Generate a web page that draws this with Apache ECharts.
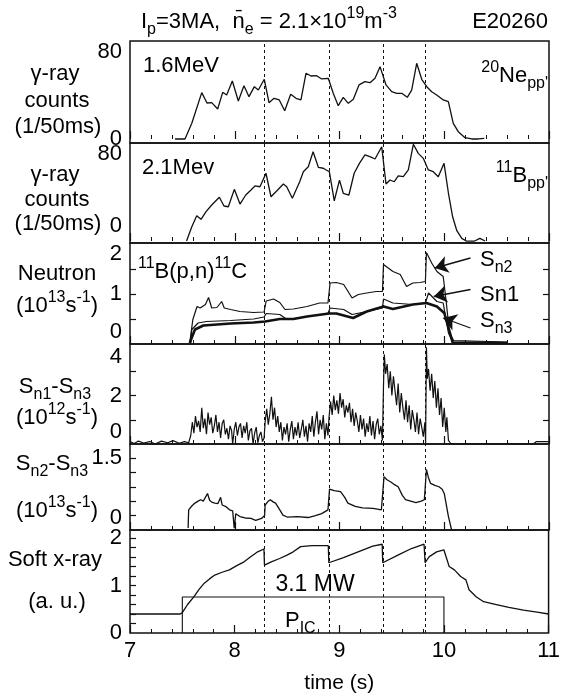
<!DOCTYPE html>
<html>
<head>
<meta charset="utf-8">
<script src="https://cdn.jsdelivr.net/npm/echarts@6/dist/echarts.min.js"></script>
<style>
  html, body { margin: 0; padding: 0; background: #fff; }
  #chart { width: 563px; height: 696px; }
</style>
</head>
<body>
<div id="chart"></div>
<script>
// sawtooth crash times (dashed lines)
const crashTimes = [8.28, 8.9, 9.42, 9.82];

// 1.6 MeV gamma-ray counts (20Ne pp')
const gamma16 = [[7.43,0],[7.525,0],[7.59,14.4],[7.685,42.6],[7.735,33.1],[7.78,33.4],[7.837,27.6],[7.885,42.9],[7.923,40.5],[7.977,53.3],[8.034,34.9],[8.088,49],[8.136,38.9],[8.187,48.1],[8.225,45],[8.282,54.9],[8.327,33.4],[8.375,37.4],[8.425,35.9],[8.477,26],[8.534,41.1],[8.585,37.4],[8.632,35.9],[8.68,60.4],[8.728,57.9],[8.782,58.2],[8.83,55.2],[8.893,55.8],[8.94,42],[8.988,30.6],[9.036,38.3],[9.084,32.8],[9.132,36.5],[9.186,49.7],[9.243,52.7],[9.291,51.8],[9.339,55.8],[9.387,66.5],[9.444,49.7],[9.498,43.5],[9.546,42],[9.594,42],[9.647,38.3],[9.689,45],[9.737,69.6],[9.785,54.9],[9.833,48.1],[9.88,43.5],[9.928,40.5],[9.991,35.9],[10.039,34.3],[10.086,14.4],[10.134,6.7],[10.198,1.2],[10.262,0],[10.325,0],[10.382,0.6]];

// 2.1 MeV gamma-ray counts (11B pp')
const gamma21 = [[7.54,0],[7.59,13.2],[7.637,23.3],[7.678,20],[7.726,27],[7.78,33.1],[7.853,40.2],[7.897,32.2],[7.939,31.5],[7.996,47.5],[8.05,34],[8.105,42.3],[8.155,46.9],[8.193,50.6],[8.241,49.9],[8.298,62.3],[8.346,40.7],[8.4,46],[8.464,52.4],[8.496,49.9],[8.55,39.3],[8.62,54.5],[8.655,63.7],[8.702,68.3],[8.748,82],[8.798,67.8],[8.845,66.9],[8.903,63.7],[8.95,37],[9.0,56],[9.036,43.9],[9.09,42.3],[9.14,62.3],[9.19,71.4],[9.243,79.1],[9.29,77.5],[9.339,75.4],[9.403,86.7],[9.444,52.4],[9.482,56.1],[9.523,54.5],[9.561,59.8],[9.609,59.1],[9.657,65.3],[9.705,88.9],[9.752,80.6],[9.8,76],[9.848,65.3],[9.895,63.7],[9.943,59.1],[9.998,71.4],[10.04,43.9],[10.08,22.3],[10.12,9.5],[10.167,2.5],[10.21,0],[10.29,0],[10.34,2.5],[10.39,0]];

// neutron rates (1e13 /s)
const sn2 = [[7.57,0.02],[7.60,0.49],[7.64,0.75],[7.67,0.72],[7.72,0.79],[7.75,0.93],[7.78,0.72],[7.83,0.73],[7.875,0.85],[7.9,0.72],[7.96,0.69],[8.05,0.65],[8.18,0.63],[8.28,0.64],[8.30,0.86],[8.37,0.9],[8.43,0.83],[8.48,0.69],[8.56,0.70],[8.69,0.75],[8.81,0.82],[8.89,0.82],[8.91,1.22],[8.97,1.23],[9.04,1.19],[9.07,1.09],[9.12,0.92],[9.18,0.99],[9.26,1.02],[9.35,1.05],[9.41,1.05],[9.42,1.59],[9.51,1.45],[9.58,1.39],[9.64,1.15],[9.70,1.22],[9.77,1.23],[9.82,1.25],[9.83,1.83],[9.88,1.62],[9.93,1.45],[9.99,1.35],[10.02,0.82],[10.05,0.22],[10.09,0.07],[10.6,0.04]];
const sn1 = [[7.58,0.02],[7.59,0.29],[7.65,0.42],[7.73,0.45],[7.96,0.47],[8.18,0.5],[8.28,0.54],[8.30,0.61],[8.43,0.59],[8.50,0.49],[8.69,0.55],[8.89,0.61],[8.91,0.72],[9.04,0.69],[9.12,0.59],[9.26,0.65],[9.41,0.72],[9.42,0.9],[9.51,0.82],[9.70,0.79],[9.82,0.82],[9.85,1.02],[9.93,0.85],[9.99,0.82],[10.04,0.22],[10.08,0.04],[10.6,0.03]];
const sn3 = [[7.57,0.02],[7.62,0.29],[7.70,0.37],[7.96,0.41],[8.18,0.43],[8.29,0.45],[8.43,0.5],[8.56,0.5],[8.69,0.55],[8.90,0.61],[8.97,0.61],[9.13,0.52],[9.26,0.65],[9.42,0.75],[9.51,0.7],[9.70,0.79],[9.83,0.82],[9.93,0.75],[10.0,0.62],[10.055,0.22],[10.08,0.03],[10.6,0.02]];

// Sn1 - Sn3 (1e12 /s)
const sn1m3 = [[7.0,0.1],[7.04,0.02],[7.08,0.12],[7.13,0.04],[7.19,0.1],[7.24,0.0],[7.3,0.12],[7.36,0.05],[7.41,0.14],[7.47,0.03],[7.52,0.1],[7.56,0.05],
  [7.58,0.35],[7.595,0.9],[7.61,0.45],[7.625,1.15],[7.64,0.7],[7.655,0.95],[7.67,0.5],[7.685,1.5],[7.7,0.65],[7.715,1.05],[7.73,0.4],[7.745,1.3],[7.76,0.8],[7.775,1.1],[7.79,0.45],[7.805,0.75],[7.82,1.2],[7.835,0.5],[7.85,0.9],[7.865,0.25],[7.88,0.85],[7.895,1.0],[7.91,0.4],[7.925,0.65],[7.94,0.2],[7.955,0.75],[7.97,0.55],[7.98,0.0],[7.995,0.6],[8.01,0.9],[8.025,0.35],[8.04,0.7],[8.055,0.85],[8.07,0.25],[8.085,0.75],[8.1,0.45],[8.115,0.9],[8.13,0.15],[8.145,0.55],[8.16,0.65],[8.175,0.0],[8.19,0.45],[8.205,0.7],[8.22,0.05],[8.235,0.35],[8.25,0.5],[8.265,0.1],[8.28,0.25],
  [8.29,0.9],[8.305,1.45],[8.32,0.8],[8.335,1.25],[8.35,1.95],[8.365,1.0],[8.38,1.5],[8.395,0.7],[8.41,1.15],[8.425,0.5],[8.44,0.9],[8.455,0.15],[8.47,0.7],[8.485,0.4],[8.5,0.85],[8.515,0.1],[8.53,0.6],[8.545,0.95],[8.56,0.2],[8.575,0.7],[8.59,0.35],[8.605,0.9],[8.62,0.25],[8.635,0.6],[8.65,1.0],[8.665,0.3],[8.68,0.75],[8.695,0.1],[8.71,0.85],[8.725,0.5],[8.74,1.15],[8.755,0.3],[8.77,0.9],[8.785,1.35],[8.8,0.4],[8.815,1.0],[8.83,0.6],[8.845,1.2],[8.86,0.2],[8.875,0.85],[8.89,0.35],
  [8.9,1.1],[8.915,1.75],[8.93,1.2],[8.945,2.0],[8.96,1.4],[8.975,1.8],[8.99,1.25],[9.005,2.1],[9.02,1.5],[9.035,1.85],[9.05,1.1],[9.065,1.6],[9.08,1.3],[9.095,1.7],[9.11,0.9],[9.125,1.45],[9.14,0.75],[9.155,1.3],[9.17,0.95],[9.185,0.5],[9.2,1.2],[9.215,0.6],[9.23,1.05],[9.245,0.3],[9.26,0.85],[9.275,0.5],[9.29,1.15],[9.305,0.35],[9.32,0.95],[9.335,0.2],[9.35,0.8],[9.365,1.05],[9.38,0.4],[9.395,0.75],[9.41,0.15],
  [9.42,2.4],[9.428,3.7],[9.44,2.9],[9.455,3.3],[9.47,2.3],[9.485,3.0],[9.5,2.0],[9.515,2.8],[9.53,2.2],[9.545,1.6],[9.56,2.5],[9.575,1.3],[9.59,2.1],[9.605,1.5],[9.62,1.0],[9.635,1.8],[9.65,0.9],[9.665,1.6],[9.68,0.6],[9.695,1.4],[9.71,1.0],[9.725,0.5],[9.74,1.3],[9.755,0.4],[9.77,1.05],[9.785,0.7],[9.8,0.3],[9.815,0.9],[9.822,0.05],
  [9.83,4.0],[9.838,2.7],[9.85,3.1],[9.865,2.2],[9.88,2.9],[9.895,1.9],[9.91,2.6],[9.925,1.5],[9.94,2.3],[9.955,1.2],[9.97,1.9],[9.985,0.7],[10.0,1.5],[10.015,0.5],[10.025,1.1],[10.04,0.15],[10.06,0.03],[10.1,0],[10.85,0],[10.88,0.1],[11.0,0.1]];

// Sn2 - Sn3 (1e13 /s)
const sn2m3 = [[7.555,0.04],[7.56,0.42],[7.59,0.5],[7.62,0.56],[7.65,0.6],[7.675,0.63],[7.7,0.6],[7.74,0.76],[7.76,0.62],[7.78,0.58],[7.81,0.56],[7.84,0.55],[7.865,0.68],[7.88,0.52],[7.92,0.48],[7.95,0.42],[7.98,0.4],[7.995,0.04],[8.01,0.34],[8.05,0.28],[8.1,0.25],[8.155,0.24],[8.2,0.2],[8.256,0.24],[8.285,0.3],[8.29,0.52],[8.32,0.6],[8.34,0.63],[8.37,0.58],[8.39,0.56],[8.43,0.42],[8.46,0.31],[8.5,0.27],[8.6,0.28],[8.7,0.26],[8.77,0.3],[8.83,0.34],[8.89,0.42],[8.905,0.85],[8.95,0.82],[9.01,0.8],[9.05,0.68],[9.08,0.56],[9.15,0.49],[9.22,0.46],[9.32,0.45],[9.4,0.42],[9.415,0.44],[9.425,1.11],[9.45,1.05],[9.49,1.0],[9.52,0.95],[9.56,0.9],[9.6,0.72],[9.63,0.63],[9.68,0.6],[9.73,0.57],[9.78,0.6],[9.81,0.63],[9.83,1.26],[9.85,1.08],[9.87,0.97],[9.91,0.93],[9.95,0.9],[9.98,0.85],[10.0,0.76],[10.04,0.28],[10.07,0]];

// soft x-ray (a.u.) and ICRF power window
const softX = [[7.0,0.4],[7.48,0.4],[7.5,0.43],[7.55,0.6],[7.61,0.76],[7.66,0.92],[7.71,1.05],[7.76,1.14],[7.81,1.22],[7.88,1.28],[7.95,1.33],[8.02,1.42],[8.09,1.5],[8.15,1.6],[8.22,1.71],[8.28,1.77],[8.285,1.43],[8.35,1.5],[8.43,1.57],[8.5,1.64],[8.56,1.71],[8.63,1.82],[8.74,1.84],[8.895,1.84],[8.9,1.48],[9.04,1.59],[9.18,1.71],[9.32,1.83],[9.41,1.87],[9.415,1.48],[9.56,1.64],[9.69,1.78],[9.81,1.87],[9.82,1.48],[9.86,1.61],[9.93,1.71],[10.0,1.75],[10.05,1.4],[10.1,1.33],[10.16,1.19],[10.21,1.12],[10.24,0.91],[10.31,0.76],[10.38,0.66],[10.48,0.61],[10.62,0.54],[10.76,0.48],[10.89,0.44],[11.0,0.4]];
const picBox = [[7.5,0],[7.5,0.76],[10.0,0.76],[10.0,0]];

// tick labels per panel
const xTickLabels = [7, 8, 9, 10, 11];
const gammaLabels = [0, 80];
const neutronLabels = [0, 1, 2];
const sn1m3Labels = [0, 2, 4];
const sn2m3Labels = [0, 1.5];
const softXLabels = [0, 1, 2];

const FONT = "'Liberation Sans', Arial, Helvetica, sans-serif";
const BLACK = '#111';

const chart = echarts.init(document.getElementById('chart'));

const grids = [
  { top: 41, height: 102 },
  { top: 143, height: 100 },
  { top: 243, height: 101 },
  { top: 344, height: 100 },
  { top: 444, height: 86 },
  { top: 530, height: 103 },
].map(g => ({
  left: 130, width: 419, top: g.top, height: g.height,
  show: true, borderColor: BLACK, borderWidth: 1.5, backgroundColor: 'transparent',
}));

const xAxis = grids.map((g, i) => ({
  type: 'value', gridIndex: i, min: 7, max: 11, interval: 1,
  axisLine: { show: false },
  splitLine: { show: false },
  axisTick: { show: true, inside: true, length: 8, lineStyle: { color: BLACK, width: 1.2 } },
  minorTick: { show: true, splitNumber: 5, length: 4, lineStyle: { color: BLACK, width: 1 } },
  axisLabel: {
    show: i === 5, fontSize: 22, fontFamily: FONT, color: '#000', margin: 7,
    customValues: xTickLabels,
  },
  name: i === 5 ? 'time (s)' : '',
  nameLocation: 'middle', nameGap: 40,
  nameTextStyle: { fontSize: 21, fontFamily: FONT, color: '#000' },
}));

const labelRich = {
  up: { fontSize: 22, fontFamily: FONT, color: '#000', padding: [0, 0, 24, 0] },
  up2: { fontSize: 22, fontFamily: FONT, color: '#000', padding: [0, 0, 30, 0] },
  down: { fontSize: 22, fontFamily: FONT, color: '#000', padding: [20, 0, 0, 0] },
};

function leftAxis(i, min, max, labels, ticks, shift) {
  return {
    type: 'value', gridIndex: i, min: min, max: max, position: 'left',
    axisLine: { show: false },
    splitLine: { show: false },
    axisTick: {
      show: ticks.length > 0, inside: true, length: 6, customValues: ticks,
      lineStyle: { color: BLACK, width: 1.2 },
    },
    axisLabel: {
      fontSize: 22, fontFamily: FONT, color: '#000', margin: 8,
      showMinLabel: true, showMaxLabel: true,
      customValues: labels,
      formatter: v => (shift[v] ? '{' + shift[v] + '|' + v + '}' : String(v)),
      rich: labelRich,
    },
  };
}

function rightAxis(i, min, max, ticks) {
  return {
    type: 'value', gridIndex: i, min: min, max: max, position: 'right',
    axisLine: { show: false },
    splitLine: { show: false },
    axisTick: { show: true, inside: true, length: 6, customValues: ticks, lineStyle: { color: BLACK, width: 1.2 } },
    axisLabel: { show: false },
  };
}

const yAxis = [
  leftAxis(0, -3.7, 90.1, gammaLabels, [], {}),
  leftAxis(1, -1.8, 90.1, gammaLabels, [], { 0: 'up2' }),
  leftAxis(2, 0, 2.02, neutronLabels, [0.5, 1, 1.5], { 0: 'up', 2: 'down' }),
  leftAxis(3, 0, 4.13, sn1m3Labels, [1, 2, 3], { 0: 'up', 4: 'down' }),
  leftAxis(4, 0, 1.79, sn2m3Labels, [0.3, 0.6, 0.9, 1.2, 1.5], { 0: 'up' }),
  leftAxis(5, 0, 2.17, softXLabels, [0.2, 0.4, 0.6, 0.8, 1, 1.2, 1.4, 1.6, 1.8, 2], {}),
  rightAxis(2, 0, 2.02, [0.5, 1, 1.5]),
  rightAxis(3, 0, 4.13, [1, 2, 3]),
];

const crashLines = {
  silent: true, symbol: 'none', animation: false,
  label: { show: false },
  lineStyle: { type: [3, 3], color: BLACK, width: 1 },
  data: crashTimes.map(t => ({ xAxis: t })),
};

function trace(i, data, width, withCrash) {
  return {
    type: 'line', xAxisIndex: i, yAxisIndex: i, data: data,
    symbol: 'none', animation: false, silent: true,
    lineStyle: { color: BLACK, width: width },
    markLine: withCrash ? crashLines : undefined,
  };
}

// arrows pointing at the three neutron traces
const arrowSeries = {
  type: 'line', xAxisIndex: 2, yAxisIndex: 2, data: [], symbol: 'none', silent: true,
  markLine: {
    silent: true, animation: false,
    symbol: ['none', 'arrow'], symbolSize: 13,
    label: { show: false },
    lineStyle: { type: 'solid', color: BLACK, width: 1.3 },
    data: [
      [{ coord: [10.25, 1.72] }, { coord: [9.91, 1.52] }],
      [{ coord: [10.25, 1.09] }, { coord: [9.9, 0.95] }],
      [{ coord: [10.25, 0.32] }, { coord: [9.99, 0.52] }],
    ],
  },
};

const series = [
  trace(0, gamma16, 1.3, true),
  trace(1, gamma21, 1.3, true),
  trace(2, sn2, 1.2, true),
  trace(2, sn1, 1.2, false),
  trace(2, sn3, 2.6, false),
  trace(3, sn1m3, 1.2, true),
  trace(4, sn2m3, 1.3, true),
  trace(5, softX, 1.3, true),
  trace(5, picBox, 1.1, false),
  arrowSeries,
];

const rich = {
  sub: { fontSize: 16, fontFamily: FONT, fill: '#000', verticalAlign: 'bottom', lineHeight: 16 },
  sup: { fontSize: 16, fontFamily: FONT, fill: '#000', verticalAlign: 'top', lineHeight: 16 },
};

function txt(x, y, text, align, size) {
  return {
    type: 'text', x: x, y: y, silent: true,
    style: {
      text: text, fill: '#000', fontSize: size || 22, fontFamily: FONT,
      lineHeight: 32,
      align: align || 'center', textAlign: align || 'center',
      verticalAlign: 'middle', textVerticalAlign: 'middle',
      rich: rich,
    },
  };
}

const graphic = [
  txt(141, 22, 'I{sub|p}=3MA,  n\u0304{sub|e} = 2.1\u00d710{sup|19}m{sup|-3}', 'left'),
  txt(548, 22, 'E20260', 'right'),
  txt(55, 74, '\u03b3-ray'), txt(57, 101, 'counts'), txt(58, 127, '(1/50ms)'),
  txt(55, 175, '\u03b3-ray'), txt(57, 200, 'counts'), txt(58, 224, '(1/50ms)'),
  txt(57, 274, 'Neutron'), txt(57, 306, '(10{sup|13}s{sup|-1})'),
  txt(55, 387, 'S{sub|n1}-S{sub|n3}'), txt(57, 418, '(10{sup|12}s{sup|-1})'),
  txt(52, 464, 'S{sub|n2}-S{sub|n3}'), txt(57, 511, '(10{sup|13}s{sup|-1})'),
  txt(55, 560, 'Soft x-ray'), txt(57, 602, '(a. u.)'),
  txt(143, 66, '1.6MeV', 'left'),
  txt(142, 168, '2.1Mev', 'left'),
  txt(548, 76, '{sup|20}Ne{sub|pp\'}', 'right'),
  txt(548, 176, '{sup|11}B{sub|pp\'}', 'right'),
  txt(138, 272, '{sup|11}B(p,n){sup|11}C', 'left'),
  txt(480, 260, 'S{sub|n2}', 'left'),
  txt(480, 295, 'Sn1', 'left'),
  txt(480, 321, 'S{sub|n3}', 'left'),
  txt(315, 585, '3.1 MW', 'center', 23),
  txt(285, 621, 'P{sub|IC}', 'left'),
];

chart.setOption({
  animation: false,
  backgroundColor: '#fff',
  grid: grids,
  xAxis: xAxis,
  yAxis: yAxis,
  series: series,
  graphic: graphic,
});
</script>
</body>
</html>
